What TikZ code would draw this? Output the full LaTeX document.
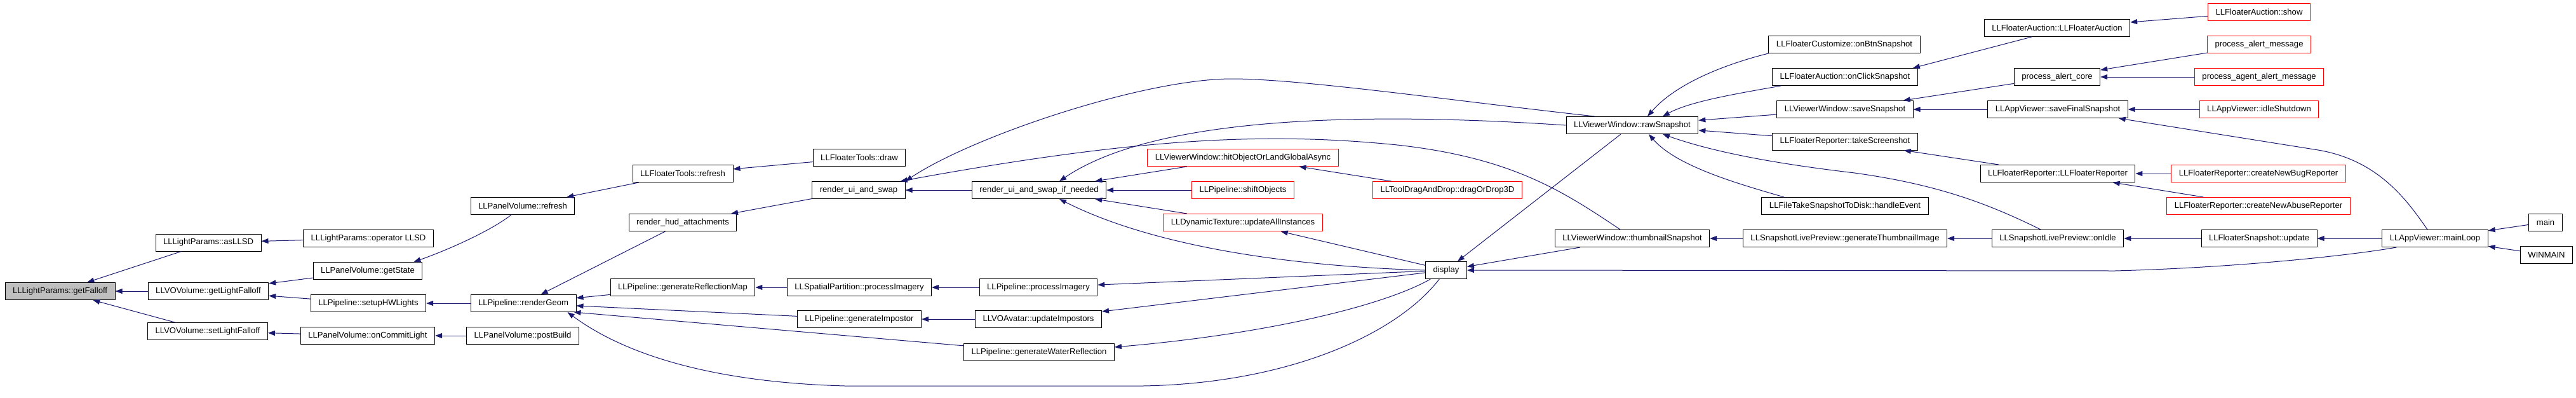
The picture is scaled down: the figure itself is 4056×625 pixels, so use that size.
\documentclass[tikz,border=0pt]{standalone}
\usepackage{fontspec}
\setmainfont{Liberation Sans}
\usetikzlibrary{arrows.meta}
\definecolor{navy}{HTML}{191970}
\tikzset{
fn/.style={shape=rectangle, draw, line width=1pt, minimum height=27pt, inner xsep=12pt, inner ysep=0pt, font=\fontsize{13.1}{15}\selectfont}, ext/.style={fn, draw=red}, focus/.style={fn, fill=gray!50}, call/.style={->, draw=navy, line width=1pt}}

\begin{document}
\begin{tikzpicture}[x=1pt, y=-1pt, >={Triangle[length=11pt, width=8pt]}]
\useasboundingbox (0,0) rectangle (4056,625);
\node [focus] (fall) at (94.6,458) {LLLightParams::getFalloff};
\node [fn] (asllsd) at (328,381.5) {LLLightParams::asLLSD};
\node [fn] (getlf) at (328,458) {LLVOVolume::getLightFalloff};
\node [fn] (setlf) at (327,521) {LLVOVolume::setLightFalloff};
\node [fn] (oplsd) at (580,375) {LLLightParams::operator LLSD};
\node [fn] (getstate) at (579,426) {LLPanelVolume::getState};
\node [fn] (sethw) at (580,477) {LLPipeline::setupHWLights};
\node [fn] (commit) at (579,528) {LLPanelVolume::onCommitLight};
\node [fn] (pvrefresh) at (823,324) {LLPanelVolume::refresh};
\node [fn] (render) at (824,477) {LLPipeline::renderGeom};
\node [fn] (postbuild) at (823,528) {LLPanelVolume::postBuild};
\node [fn] (ftrefresh) at (1075,273) {LLFloaterTools::refresh};
\node [fn] (hud) at (1075,350) {render\_hud\_attachments};
\node [fn] (reflmap) at (1075,452) {LLPipeline::generateReflectionMap};
\node [fn] (ftdraw) at (1353,248) {LLFloaterTools::draw};
\node [fn] (swap) at (1352,299) {render\_ui\_and\_swap};
\node [fn] (spatial) at (1353,452) {LLSpatialPartition::processImagery};
\node [fn] (impostor) at (1353,502) {LLPipeline::generateImpostor};
\node [fn] (ifneeded) at (1636,299) {render\_ui\_and\_swap\_if\_needed};
\node [fn] (procimg) at (1635,452) {LLPipeline::processImagery};
\node [fn] (updimp) at (1635,502) {LLVOAvatar::updateImpostors};
\node [fn] (water) at (1636,554) {LLPipeline::generateWaterReflection};
\node [ext] (hitobj) at (1957,248) {LLViewerWindow::hitObjectOrLandGlobalAsync};
\node [ext] (shift) at (1957,299) {LLPipeline::shiftObjects};
\node [ext] (dyntex) at (1957,350) {LLDynamicTexture::updateAllInstances};
\node [ext] (dragdrop) at (2279,299) {LLToolDragAndDrop::dragOrDrop3D};
\node [fn] (display) at (2277,425) {display};
\node [fn] (raw) at (2570,197) {LLViewerWindow::rawSnapshot};
\node [fn] (thumb) at (2570,375) {LLViewerWindow::thumbnailSnapshot};
\node [fn] (btnsnap) at (2904,70) {LLFloaterCustomize::onBtnSnapshot};
\node [fn] (clicksnap) at (2905,121) {LLFloaterAuction::onClickSnapshot};
\node [fn] (savesnap) at (2905,172) {LLViewerWindow::saveSnapshot};
\node [fn] (takescr) at (2905,222.5) {LLFloaterReporter::takeScreenshot};
\node [fn] (todisk) at (2905,324) {LLFileTakeSnapshotToDisk::handleEvent};
\node [fn] (genthumb) at (2905,375) {LLSnapshotLivePreview::generateThumbnailImage};
\node [fn] (auction) at (3239,44) {LLFloaterAuction::LLFloaterAuction};
\node [fn] (alertcore) at (3239,121) {process\_alert\_core};
\node [fn] (savefinal) at (3240,172) {LLAppViewer::saveFinalSnapshot};
\node [fn] (reporter) at (3240,273) {LLFloaterReporter::LLFloaterReporter};
\node [fn] (onidle) at (3240,375) {LLSnapshotLivePreview::onIdle};
\node [ext] (show) at (3557,19) {LLFloaterAuction::show};
\node [ext] (alertmsg) at (3557,70) {process\_alert\_message};
\node [ext] (agentalert) at (3557,121) {process\_agent\_alert\_message};
\node [ext] (idleshut) at (3557,172) {LLAppViewer::idleShutdown};
\node [ext] (bugrep) at (3556,273) {LLFloaterReporter::createNewBugReporter};
\node [ext] (abuserep) at (3556,324) {LLFloaterReporter::createNewAbuseReporter};
\node [fn] (update) at (3557,375) {LLFloaterSnapshot::update};
\node [fn] (mainloop) at (3834,375) {LLAppViewer::mainLoop};
\node [fn] (main) at (4008,349.5) {main};
\node [fn] (winmain) at (4009.5,401) {WINMAIN};
\draw [call] (asllsd) -- (fall);
\draw [call] (getlf) -- (fall);
\draw [call] (setlf) -- (fall);
\draw [call] (oplsd) -- (asllsd);
\draw [call] (getstate) -- (getlf);
\draw [call] (sethw) -- (getlf);
\draw [call] (commit) -- (setlf);
\draw [call] (pvrefresh) .. controls (770,365) and (700,395) .. ([xshift=-14pt]getstate.north east);
\draw [call] (render) -- (sethw);
\draw [call] (postbuild) -- (commit);
\draw [call] (ftrefresh) -- (pvrefresh);
\draw [call] (ftdraw) -- (ftrefresh);
\draw [call] (hud) -- (render);
\draw [call] (swap) -- (hud);
\draw [call] (reflmap) -- (render);
\draw [call] (impostor) -- (render);
\draw [call] (water) -- ([xshift=-4pt]render.south east);
\draw [call] (display) .. controls (2200,525) and (2030,603) .. (1800,607) -- (1330,607) .. controls (1080,600) and (960,540) .. ([xshift=-14pt]render.south east);
\draw [call] (spatial) -- (reflmap);
\draw [call] (procimg) -- (spatial);
\draw [call] (updimp) -- (impostor);
\draw [call] (ifneeded) -- (swap);
\draw [call] ([xshift=45pt]raw.north west) .. controls (2300,160) and (2050,124) .. (1940,124) .. controls (1800,124) and (1530,215) .. (swap.north east);
\draw [call] (raw.west) .. controls (2150,176) and (1820,182) .. ([xshift=32pt]ifneeded.north);
\draw [call] ([xshift=-19pt]thumb.north) .. controls (2460,300) and (2380,248) .. (2200,228) .. controls (2000,208) and (1800,215) .. ([xshift=-8pt]swap.north east);
\draw [call] (hitobj) -- (ifneeded);
\draw [call] (shift) -- (ifneeded);
\draw [call] (dyntex) -- (ifneeded);
\draw [call] (display.west) .. controls (2000,418) and (1800,380) .. ([xshift=32pt]ifneeded.south);
\draw [call] (dragdrop) -- (hitobj);
\draw [call] (display) -- (dyntex);
\draw [call] (display) -- (procimg);
\draw [call] (display) -- (updimp);
\draw [call] (display) .. controls (2180,480) and (2000,525) .. ([yshift=8pt]water.east);
\draw [call] (raw) -- (display);
\draw [call] (thumb) -- (display);
\draw [call] ([xshift=23pt]mainloop.south west) .. controls (3700,402) and (3520,421) .. (3330,426) -- (display.east);
\draw [call] (genthumb) -- (thumb);
\draw [call] (onidle) -- (genthumb);
\draw [call] (update) -- (onidle);
\draw [call] (mainloop) -- (update);
\draw [call] (main) -- (mainloop);
\draw [call] (winmain) -- (mainloop);
\draw [call] ([xshift=-12pt]mainloop.north) .. controls (3790,315) and (3745,252) .. (3650,236) -- ([xshift=-15pt]savefinal.south east);
\draw [call] (idleshut) -- (savefinal);
\draw [call] (savefinal) -- (savesnap);
\draw [call] (alertcore) -- (savesnap);
\draw [call] (alertmsg) -- (alertcore);
\draw [call] (agentalert) -- (alertcore);
\draw [call] ([xshift=-40pt]auction.south) -- ([xshift=-8pt]clicksnap.north east);
\draw [call] (show) -- (auction);
\draw [call] (bugrep) -- (reporter);
\draw [call] (abuserep) -- (reporter);
\draw [call] (reporter) -- (takescr);
\draw [call] ([xshift=-27pt]onidle.north) .. controls (3130,320) and (3050,290) .. (2920,272) .. controls (2800,258) and (2700,240) .. ([xshift=48pt]raw.south);
\draw [call] (btnsnap.south west) .. controls (2720,100) and (2640,130) .. ([xshift=24pt]raw.north);
\draw [call] ([xshift=14pt]clicksnap.south west) .. controls (2730,148) and (2660,160) .. ([xshift=48pt]raw.north);
\draw [call] (savesnap) -- (raw);
\draw [call] (takescr) -- (raw);
\draw [call] ([xshift=-96pt]todisk.north) .. controls (2740,290) and (2640,262) .. ([xshift=26pt]raw.south);
\end{tikzpicture}
\end{document}
